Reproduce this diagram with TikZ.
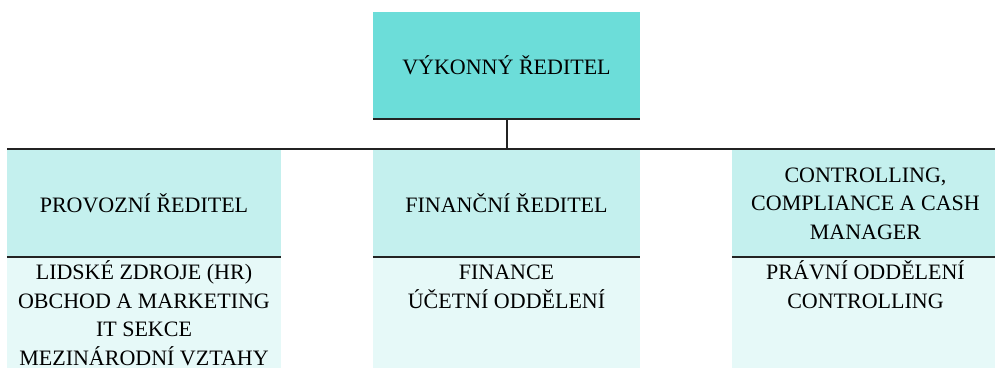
\documentclass[tikz,border=0pt]{standalone}
\usepackage{fontspec}
\setmainfont{Liberation Serif}
\usetikzlibrary{positioning}

\definecolor{ceofill}{RGB}{108,221,217}
\definecolor{headfill}{RGB}{196,240,238}
\definecolor{bodyfill}{RGB}{230,249,248}
\definecolor{rulegray}{RGB}{35,35,35}

\newcommand{\topstrut}{\rule{0pt}{21pt}}

\tikzset{
  box/.style={rectangle, inner sep=0pt, align=center,
    font=\fontsize{22}{28.5}\selectfont},
  bodytext/.style={box, anchor=north},
  rule/.style={draw=rulegray, line width=2pt},
}

\begin{document}
\begin{tikzpicture}[x=1pt, y=-1pt]
    \useasboundingbox (0,0) rectangle (995,367);
    \clip (0,0) rectangle (995,367);
    % top box
    \node[box, fill=ceofill, minimum width=267pt, minimum height=107pt]
      (ceo) at (506.5,65.5) {VÝKONNÝ ŘEDITEL};
    \draw[rule] (ceo.south west) -- (ceo.south east);
    % columns
    \foreach \n/\x/\w/\head/\body in
      {ops/144/274/{PROVOZNÍ ŘEDITEL}/{LIDSKÉ ZDROJE (HR)\\OBCHOD A MARKETING\\IT SEKCE\\MEZINÁRODNÍ VZTAHY},
       fin/506.5/267/{FINANČNÍ ŘEDITEL}/{FINANCE\\ÚČETNÍ ODDĚLENÍ},
       ctrl/865.5/267/{CONTROLLING,\\COMPLIANCE A CASH\\MANAGER}/{PRÁVNÍ ODDĚLENÍ\\CONTROLLING}} {
      \node[box, fill=headfill, minimum width=\w pt, minimum height=107pt]
        (\n head) at (\x,203.5) {\head};
      \node[box, fill=bodyfill, minimum width=\w pt, minimum height=115pt,
        anchor=north] (\n body) at (\n head.south) {};
      \node[bodytext] (\n text) at (\x,258.5) {\topstrut\body};
      \draw[rule] (\n head.south west) -- (\n head.south east);
    }
    % connector
    \coordinate (busl) at (7,149);
    \coordinate (busr) at (995,149);
    \draw[rule] (busl) -- (busr);
    \draw[rule] (ceo.south) -- (ceo.south |- busl);
  \end{tikzpicture}
\end{document}
